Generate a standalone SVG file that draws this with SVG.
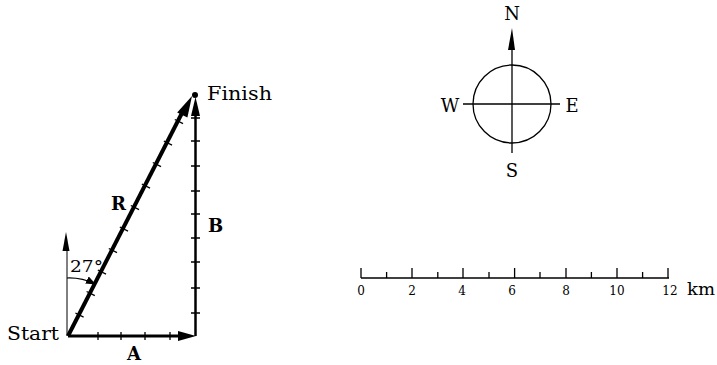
<svg xmlns="http://www.w3.org/2000/svg" width="717" height="365" viewBox="0 0 717 365">
<style>
text{font-family:"DejaVu Serif","Liberation Serif",serif;fill:#000}
.lbl{font-size:18px}
.bold{font-size:18px;font-weight:bold}
.num{font-size:12px}
.tk{stroke:#000;stroke-width:1.3;fill:none}
</style>
<defs>
<marker id="arcHead" markerWidth="10" markerHeight="8" refX="9" refY="4" orient="auto" markerUnits="userSpaceOnUse">
<path d="M0,0 L10,4 L0,8 Z" fill="#000"/>
</marker>
</defs>
<rect width="717" height="365" fill="#fff"/>
<g id="connectors">
<g id="vecA">
<line x1="68" y1="336" x2="180" y2="336" stroke="#000" stroke-width="3"/>
<path d="M196,336 L178,331 L178,341 Z" fill="#000"/>
<path class="tk" d="M98,332V340M121,332V340M145,332V340M170,332V340"/>
</g>
<g id="vecB">
<line x1="195.5" y1="336" x2="195.5" y2="112" stroke="#000" stroke-width="2.5"/>
<path d="M195.5,97 L191,116 L200,116 Z" fill="#000"/>
<path class="tk" d="M191,313H200M191,288H200M191,262H200M191,238H200M191,214H200M191,191H200M191,166H200M191,141H200M191,118H200"/>
</g>
<g id="vecR">
<line x1="68" y1="336" x2="183" y2="111" stroke="#000" stroke-width="4"/>
<path d="M192,96 L187.4,117.6 L177.2,112.4 Z" fill="#000"/>
<g class="tk">
<line x1="75.4" y1="313" x2="83.6" y2="317.2"/>
<line x1="86.6" y1="291.5" x2="94.8" y2="295.7"/>
<line x1="97.8" y1="270" x2="106" y2="274.2"/>
<line x1="108.8" y1="248.5" x2="117" y2="252.7"/>
<line x1="119.8" y1="227" x2="128" y2="231.2"/>
<line x1="130.8" y1="205.5" x2="139" y2="209.7"/>
<line x1="141.8" y1="184" x2="150" y2="188.2"/>
<line x1="152.8" y1="162.5" x2="161" y2="166.7"/>
<line x1="163.8" y1="141" x2="172" y2="145.2"/>
<line x1="174.8" y1="119.5" x2="183" y2="123.7"/>
</g>
</g>
<g id="northStart">
<line x1="67" y1="336" x2="67" y2="248" stroke="#000" stroke-width="1"/>
<path d="M66,232 L62.5,251 L69.5,251 Z" fill="#000"/>
<path d="M67,278 A58,58 0 0 1 95,284" fill="none" stroke="#000" stroke-width="1.2" marker-end="url(#arcHead)"/>
</g>
</g>
<g id="start"><text class="lbl" x="7" y="340" textLength="52" lengthAdjust="spacingAndGlyphs">Start</text></g>
<g id="finish">
<circle cx="195" cy="95" r="3" fill="#000"/>
<text class="lbl" x="207" y="100" textLength="65" lengthAdjust="spacingAndGlyphs">Finish</text>
</g>
<g id="labels">
<text class="bold" x="134" y="360" text-anchor="middle">A</text>
<text class="bold" x="215.5" y="232" text-anchor="middle">B</text>
<text class="bold" x="118.5" y="210" text-anchor="middle">R</text>
<text x="70" y="272" style="font-size:16px" textLength="33" lengthAdjust="spacingAndGlyphs">27°</text>
</g>
<g id="compass">
<circle cx="512" cy="104" r="39" fill="none" stroke="#000" stroke-width="1.3"/>
<line x1="463" y1="104" x2="560" y2="104" stroke="#000" stroke-width="1.3"/>
<line x1="512" y1="153" x2="512" y2="46" stroke="#000" stroke-width="1.3"/>
<path d="M512,28 L508,50 L515,50 Z" fill="#000"/>
<text class="lbl" x="512" y="20" text-anchor="middle">N</text>
<text class="lbl" x="512" y="177" text-anchor="middle">S</text>
<text class="lbl" x="450" y="112" text-anchor="middle">W</text>
<text class="lbl" x="572" y="112" text-anchor="middle">E</text>
</g>
<g id="scale">
<line x1="361" y1="278" x2="669" y2="278" stroke="#000" stroke-width="1.3"/>
<path class="tk" d="M361,268V278M668,268V278M412,268V278M463,268V278M514.6,268V278M566,268V278M617,268V278M386.6,272V278M437.8,272V278M489,272V278M540,272V278M591.4,272V278M642.6,272V278"/>
<g class="num" text-anchor="middle">
<text x="361" y="295">0</text>
<text x="412" y="295">2</text>
<text x="462" y="295">4</text>
<text x="512" y="295">6</text>
<text x="566" y="295">8</text>
<text x="617" y="295">10</text>
<text x="670" y="295">12</text>
</g>
<text x="687" y="295" style="font-size:17px" textLength="28" lengthAdjust="spacingAndGlyphs">km</text>
</g>
</svg>
